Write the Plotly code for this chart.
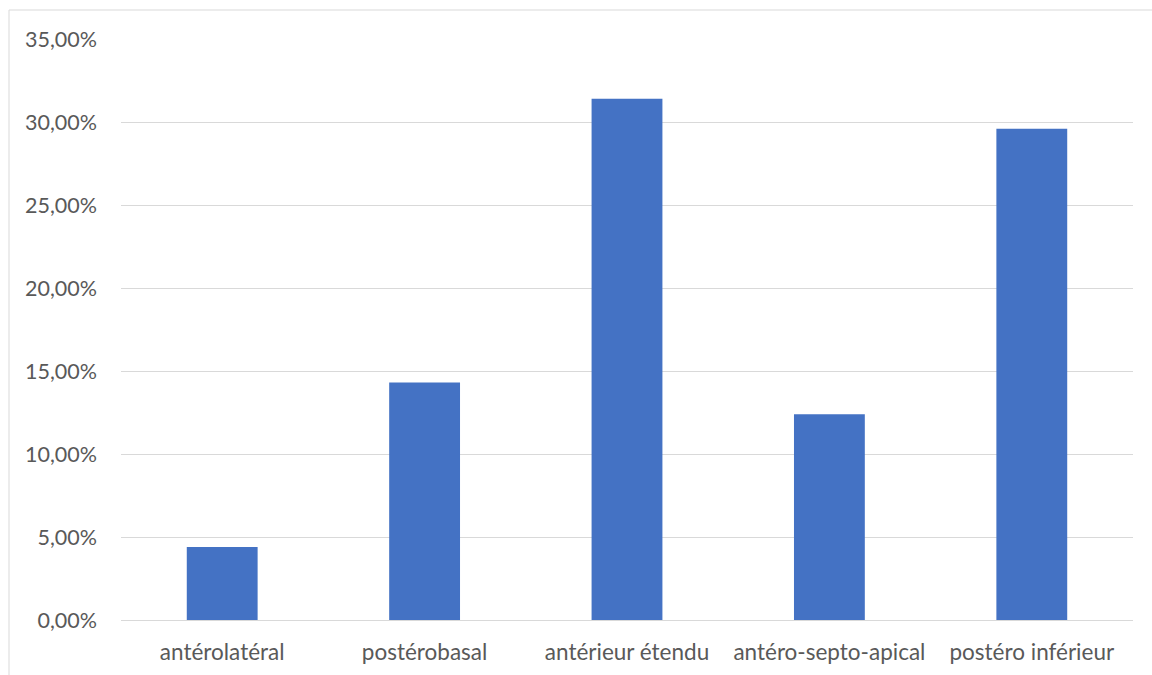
import plotly.graph_objects as go

categories = ["antérolatéral", "postérobasal", "antérieur étendu", "antéro-septo-apical", "postéro inférieur"]
values = [0.044, 0.143, 0.314, 0.124, 0.296]

W, H = 1152, 675
L, R, T, B = 121, 19, 39, 55

fig = go.Figure(go.Bar(x=categories, y=values, marker=dict(color="#4472C4", line=dict(width=0))))

pw = W - L - R
ph = H - T - B
x0 = (9 - L) / pw
y1 = 1 + (T - 10) / ph

fig.update_layout(
    width=W, height=H,
    margin=dict(l=L, r=R, t=T, b=B),
    paper_bgcolor="white", plot_bgcolor="white",
    separators=",.",
    bargap=0.65,
    showlegend=False,
    font=dict(family="Lato, Liberation Sans, Arial", size=21, color="#595959"),
    xaxis=dict(showgrid=False, showline=True, linecolor="#d9d9d9", linewidth=1.3,
               automargin=False,
               ticks="", ticklabelstandoff=12, tickfont=dict(size=22.5, color="#595959")),
    yaxis=dict(range=[0, 0.35], dtick=0.05, tickformat=".2%", showgrid=True,
               automargin=False,
               gridcolor="#d9d9d9", gridwidth=1.3, zeroline=False, showline=False,
               ticks="", ticklabelstandoff=23, tickfont=dict(size=21.5, color="#595959")),
    shapes=[dict(type="rect", xref="paper", yref="paper", x0=x0, x1=2, y0=-2, y1=y1,
                 line=dict(color="#d9d9d9", width=1), fillcolor="rgba(0,0,0,0)", layer="below")],
)

fig.write_html("out.html")
